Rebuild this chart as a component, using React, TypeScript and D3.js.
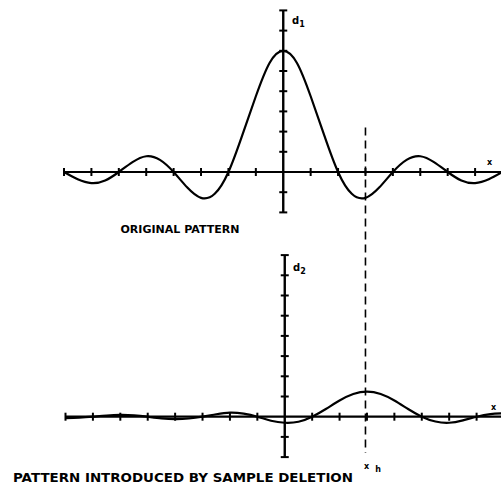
import React from "react";
import * as d3 from "d3";

// sample positions (axis units) for both patterns
const xs: number[] = [
  -8, -7.5, -7, -6.5, -6, -5.5, -5, -4.5, -4, -3.5, -3, -2.5, -2, -1.5, -1, -0.5,
  0, 0.5, 1, 1.5, 2, 2.5, 3, 3.5, 4, 4.5, 5, 5.5, 6, 6.5, 7, 7.5, 8,
];
// original pattern d1
const originalValues: number[] = [
  0, -0.36, -0.55, -0.42, 0, 0.49, 0.78, 0.6, 0, -0.77, -1.28, -1.08, 0, 1.8, 3.75, 5.4,
  6, 5.4, 3.75, 1.8, 0, -1.08, -1.28, -0.77, 0, 0.6, 0.78, 0.49, 0, -0.42, -0.55, -0.36, 0,
];
// pattern introduced by sample deletion d2
const deletionValues: number[] = [
  -0.07, -0.05, 0, 0.06, 0.09, 0.07, 0, -0.08, -0.12, -0.09, 0, 0.12, 0.2, 0.15, 0, -0.2,
  -0.3, -0.25, 0, 0.38, 0.8, 1.12, 1.24, 1.12, 0.8, 0.38, 0, -0.24, -0.3, -0.18, 0, 0.13, 0.17,
];
const xTicks: number[] = [-8, -7, -6, -5, -4, -3, -2, -1, 1, 2, 3, 4, 5, 6, 7, 8];
const yTicks: number[] = [-2, -1, 1, 2, 3, 4, 5, 6, 7, 8];
const markerX = 3;

const W = 501;
const H = 487;

type PanelProps = {
  values: number[];
  x0: number;
  x1: number;
  yZero: number;
  unit: number;
  sub: string;
  dLabel: [number, number];
  xLabel: [number, number];
};

function Panel({ values, x0, x1, yZero, unit, sub, dLabel, xLabel }: PanelProps) {
  const x = d3.scaleLinear().domain([-8, 8]).range([x0, x1]);
  const y = d3.scaleLinear().domain([0, 8]).range([yZero, yZero - 8 * unit]);
  const line = d3
    .line<number>()
    .x((_, i) => x(xs[i]))
    .y((v) => y(v))
    .curve(d3.curveNatural);
  const ox = x(0);
  return (
    <g>
      {/* x axis */}
      <line x1={x(-8)} x2={W} y1={y(0)} y2={y(0)} stroke="#000" strokeWidth={2.2} />
      {xTicks.map((t) => (
        <line key={"xt" + t} x1={x(t)} x2={x(t)} y1={y(0) - 4} y2={y(0) + 4} stroke="#000" strokeWidth={2} />
      ))}
      {/* y axis */}
      <line x1={ox} x2={ox} y1={y(-2)} y2={y(8)} stroke="#000" strokeWidth={2.4} />
      {yTicks.map((t) => (
        <line key={"yt" + t} x1={ox - 4} x2={ox + 4} y1={y(t)} y2={y(t)} stroke="#000" strokeWidth={2} />
      ))}
      <path d={line(values) || ""} fill="none" stroke="#000" strokeWidth={2.2} />
      <text x={dLabel[0]} y={dLabel[1]} fontFamily="DejaVu Sans" fontWeight="bold" fontSize={10}>
        d<tspan fontSize={8} dy={3}>{sub}</tspan>
      </text>
      <text x={xLabel[0]} y={xLabel[1]} fontFamily="DejaVu Sans" fontWeight="bold" fontSize={8}>
        x
      </text>
    </g>
  );
}

export default function App() {
  const xTop = d3.scaleLinear().domain([-8, 8]).range([64, 502.5]);
  const yTop = d3.scaleLinear().domain([0, 8]).range([172, 172 - 8 * 20.2]);
  const yBot = d3.scaleLinear().domain([0, 8]).range([416.7, 416.7 - 8 * 20.2]);
  return (
    <svg
      width={W}
      height={H}
      style={{ position: "absolute", left: 0, top: 0, background: "#fff" }}
    >
      <rect width={W} height={H} fill="#fff" />
      <Panel
        values={originalValues}
        x0={64}
        x1={502.5}
        yZero={172}
        unit={20.2}
        sub="1"
        dLabel={[292, 24]}
        xLabel={[487, 165]}
      />
      <Panel
        values={deletionValues}
        x0={65.5}
        x1={504}
        yZero={416.7}
        unit={20.2}
        sub="2"
        dLabel={[293, 271]}
        xLabel={[491, 410]}
      />
      <line
        x1={xTop(markerX)}
        x2={xTop(markerX)}
        y1={yTop(2.2)}
        y2={yBot(-1.8)}
        stroke="#000"
        strokeWidth={1.6}
        strokeDasharray="8,5"
      />
      <text x={364} y={469} fontFamily="DejaVu Sans" fontWeight="bold" fontSize={8}>
        x<tspan dx={6} dy={3}>h</tspan>
      </text>
      <text
        x={120.5}
        y={232.7}
        fontFamily="DejaVu Sans"
        fontWeight="bold"
        fontSize={11}
        textLength={119}
        lengthAdjust="spacingAndGlyphs"
      >
        ORIGINAL PATTERN
      </text>
      <text
        x={13}
        y={482}
        fontFamily="DejaVu Sans"
        fontWeight="bold"
        fontSize={12.5}
        textLength={340}
        lengthAdjust="spacingAndGlyphs"
      >
        PATTERN INTRODUCED BY SAMPLE DELETION
      </text>
    </svg>
  );
}
